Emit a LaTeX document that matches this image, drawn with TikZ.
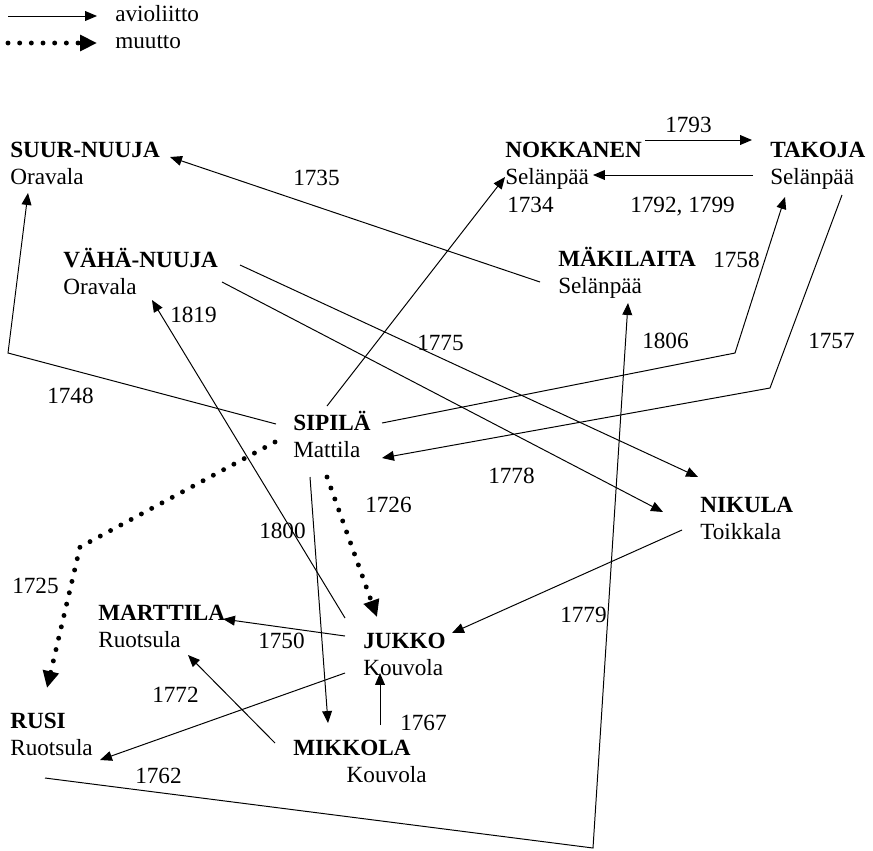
\documentclass[tikz,border=0pt]{standalone}
\usepackage{fontspec}
\setmainfont{Liberation Serif}
\usetikzlibrary{arrows.meta}
\tikzstyle{place}=[align=left,inner sep=0pt,anchor=base west]
\tikzstyle{year}=[inner sep=0pt,anchor=base west]
\tikzstyle{edge}=[draw,line width=0.7pt,-{Triangle[length=8.5pt,width=7pt]}]
\tikzstyle{move}=[draw,line width=3.5pt,line cap=round,dash pattern=on 0pt off 8.3pt,-{Triangle[length=12pt,width=11pt]}]
\begin{document}
\begin{tikzpicture}[x=0.025cm,y=-0.025cm,font=\fontsize{16.5}{19.2}\selectfont]
    \useasboundingbox (0,0) rectangle (873,850);
    % Legend
    \node[year] (avio) at (115,21) {avioliitto};
    \node[year] (muutto) at (115,48) {muutto};
    \coordinate (avio0) at (8,16);
    \coordinate (muutto0) at (8,43);
    \path[edge] (avio0) -- ([shift={(-18,-5)}]avio.base west);
    \path[move] (muutto0) -- ([shift={(-18,-5)}]muutto.base west);
    % First we draw the farms (base west is the baseline of the second line)
    \foreach \pos/\name/\txt in {{(10,184)/suurnuuja/\textbf{SUUR-NUUJA}\\Oravala},
        {(63,294)/vahanuuja/\textbf{VÄHÄ-NUUJA}\\Oravala},
        {(505,184)/nokkanen/\textbf{NOKKANEN}\\Selänpää},
        {(770,184)/takoja/\textbf{TAKOJA}\\Selänpää},
        {(558,293)/makilaita/\textbf{MÄKILAITA}\\Selänpää},
        {(293,457)/sipila/\textbf{SIPILÄ}\\Mattila},
        {(700,539)/nikula/\textbf{NIKULA}\\Toikkala},
        {(98,647)/marttila/\textbf{MARTTILA}\\Ruotsula},
        {(363,675)/jukko/\textbf{JUKKO}\\Kouvola},
        {(10,755)/rusi/\textbf{RUSI}\\Ruotsula},
        {(293,782)/mikkola/\textbf{MIKKOLA}\\\hspace*{38pt}Kouvola}}
        \node[place] (\name) at \pos {\txt};
    % Then the years
    \foreach \pos/\yr in {{(47,403)/1748}, {(293,185)/1735}, {(170,322)/1819},
        {(417,350)/1775}, {(507,212)/1734}, {(665,132)/1793}, {(713,267)/1758},
        {(642,348)/1806}, {(808,348)/1757}, {(488,483)/1778}, {(365,512)/1726},
        {(259,538)/1800}, {(12,593)/1725}, {(258,648)/1750}, {(152,702)/1772},
        {(400,730)/1767}, {(135,783)/1762}, {(560,622)/1779}}
        \node[year] (y\yr) at \pos {\yr};
    \node[year] (y1792) at (630,212) {1792, 1799};
    % Bends
    \coordinate (b1748) at (8,353);
    \coordinate (b1806) at (735,353);
    \coordinate (b1757) at (770,388);
    \coordinate (b1779) at (593,848);
    \coordinate (b1725) at (80,547);
    % Marriages
    \path[edge] ([shift={(-17,-33)}]sipila.base west) -- (b1748) -- ([shift={(18,9)}]suurnuuja.base west);
    \path[edge] ([shift={(-18,-11)}]makilaita.base west) -- ([shift={(160,-27)}]suurnuuja.base west);
    \path[edge] ([shift={(177,-29)}]vahanuuja.base west) -- ([shift={(-2,-62)}]nikula.base west);
    \path[edge] ([shift={(159,-12)}]vahanuuja.base west) -- ([shift={(-37,-27)}]nikula.base west);
    \path[edge] ([shift={(34,-51)}]sipila.base west) -- ([shift={(0,-7)}]nokkanen.base west);
    \path[edge] ([shift={(140,-44)}]nokkanen.base west) -- ([shift={(-18,-44)}]takoja.base west);
    \path[edge] ([shift={(-17,-9)}]takoja.base west) -- ([shift={(88,-9)}]nokkanen.base west);
    \path[edge] ([shift={(89,-34)}]sipila.base west) -- (b1806) -- ([shift={(15,13)}]takoja.base west);
    \path[edge] ([shift={(72,11)}]takoja.base west) -- (b1757) -- ([shift={(89,1)}]sipila.base west);
    \path[edge] ([shift={(35,23)}]rusi.base west) -- (b1779) -- ([shift={(70,10)}]makilaita.base west);
    \path[edge] ([shift={(-18,-57)}]jukko.base west) -- ([shift={(89,6)}]vahanuuja.base west);
    \path[edge] ([shift={(17,20)}]sipila.base west) -- ([shift={(35,-59)}]mikkola.base west);
    \path[edge] ([shift={(-18,-39)}]jukko.base west) -- ([shift={(125,-28)}]marttila.base west);
    \path[edge] ([shift={(-18,-2)}]jukko.base west) -- ([shift={(90,5)}]rusi.base west);
    \path[edge] ([shift={(-18,-39)}]mikkola.base west) -- ([shift={(90,8)}]marttila.base west);
    \path[edge] ([shift={(87,-57)}]mikkola.base west) -- ([shift={(17,-2)}]jukko.base west);
    \path[edge] ([shift={(-18,-9)}]nikula.base west) -- ([shift={(89,-42)}]jukko.base west);
    % Moves
    \path[move] ([shift={(-18,-15)}]sipila.base west) -- (b1725) -- ([shift={(37,-67)}]rusi.base west);
    \path[move] ([shift={(34,20)}]sipila.base west) -- ([shift={(14,-58)}]jukko.base west);
\end{tikzpicture}
\end{document}
